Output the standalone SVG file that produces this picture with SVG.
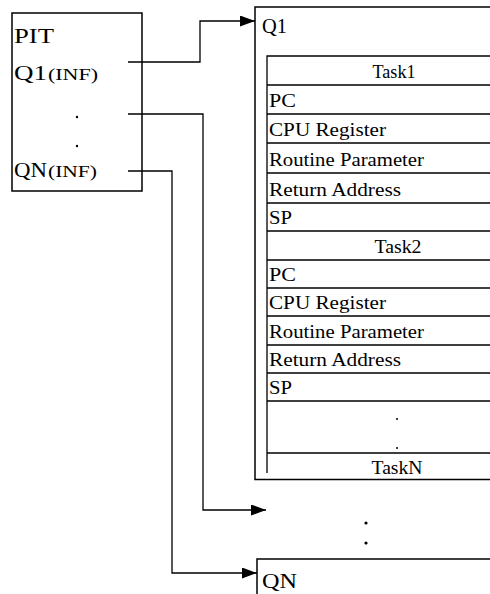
<svg xmlns="http://www.w3.org/2000/svg" width="490" height="594" viewBox="0 0 490 594" font-family="'Liberation Serif', 'DejaVu Serif', 'Times New Roman', serif">
<style>
text, tspan{font-family:"Liberation Serif","DejaVu Serif","Times New Roman",serif;fill:#000}
.row{font-size:18.5px}
.big{font-size:22px}
.sm{font-size:16px}
.ln{fill:none;stroke:#000;stroke-width:1.3}
.box{fill:none;stroke:#000;stroke-width:1.5}
.dot{fill:#000}
</style>
<defs>
<marker id="ah" markerUnits="userSpaceOnUse" markerWidth="16" markerHeight="12" refX="15" refY="5.5" orient="auto">
<path d="M0,0 L15,5.5 L0,11 z" fill="#000"/>
</marker>
</defs>
<g id="pit">
<rect class="box" x="12" y="13" width="130" height="178"/>
<text class="big" x="14" y="43" textLength="40" lengthAdjust="spacingAndGlyphs">PIT</text>
<text x="14" y="80"><tspan class="big" x="14" textLength="33" lengthAdjust="spacingAndGlyphs">Q1</tspan><tspan class="sm" x="48" textLength="50" lengthAdjust="spacingAndGlyphs">(INF)</tspan></text>
<circle class="dot" cx="77" cy="117" r="1.2"/>
<circle class="dot" cx="77" cy="146" r="1.2"/>
<text x="14" y="177"><tspan class="big" x="14" textLength="33" lengthAdjust="spacingAndGlyphs">QN</tspan><tspan class="sm" x="48" textLength="49" lengthAdjust="spacingAndGlyphs">(INF)</tspan></text>
</g>
<g id="q1">
<path class="box" d="M496,7 H255 V479.5 H496"/>
<text class="big" x="262" y="33" textLength="25" lengthAdjust="spacingAndGlyphs">Q1</text>
<g id="q1-table">
<path class="ln" d="M267,473 V56 H496 M267,85 H496 M267,114 H496 M267,143 H496 M267,173 H496 M267,203 H496 M267,231 H496 M267,260 H496 M267,288 H496 M267,316 H496 M267,345 H496 M267,373 H496 M267,401 H496 M267,453 H496"/>
<text class="row" x="394" y="78" text-anchor="middle" textLength="43" lengthAdjust="spacingAndGlyphs">Task1</text>
<text class="row" x="269" y="107" textLength="27" lengthAdjust="spacingAndGlyphs">PC</text>
<text class="row" x="269" y="136" textLength="117" lengthAdjust="spacingAndGlyphs">CPU Register</text>
<text class="row" x="269" y="166" textLength="155" lengthAdjust="spacingAndGlyphs">Routine Parameter</text>
<text class="row" x="269" y="196" textLength="132" lengthAdjust="spacingAndGlyphs">Return Address</text>
<text class="row" x="269" y="224" textLength="23" lengthAdjust="spacingAndGlyphs">SP</text>
<text class="row" x="398" y="253" text-anchor="middle" textLength="47" lengthAdjust="spacingAndGlyphs">Task2</text>
<text class="row" x="269" y="281" textLength="27" lengthAdjust="spacingAndGlyphs">PC</text>
<text class="row" x="269" y="309" textLength="117" lengthAdjust="spacingAndGlyphs">CPU Register</text>
<text class="row" x="269" y="338" textLength="155" lengthAdjust="spacingAndGlyphs">Routine Parameter</text>
<text class="row" x="269" y="366" textLength="132" lengthAdjust="spacingAndGlyphs">Return Address</text>
<text class="row" x="269" y="394" textLength="23" lengthAdjust="spacingAndGlyphs">SP</text>
<circle class="dot" cx="397" cy="419" r="1"/>
<circle class="dot" cx="397" cy="448" r="1"/>
<text class="row" x="397" y="474" text-anchor="middle" textLength="51" lengthAdjust="spacingAndGlyphs">TaskN</text>
</g>
</g>
<g id="middle-dots">
<circle class="dot" cx="366" cy="523" r="1.6"/>
<circle class="dot" cx="366" cy="543" r="1.6"/>
</g>
<g id="qn">
<path class="box" d="M496,559 H257 V596"/>
<text class="big" x="262" y="588" textLength="35" lengthAdjust="spacingAndGlyphs">QN</text>
</g>
<g id="connectors">
<path class="ln" d="M128,62 H200 V21 H255" marker-end="url(#ah)"/>
<path class="ln" d="M128,114 H203 V510 H266" marker-end="url(#ah)"/>
<path class="ln" d="M128,171 H172 V573 H257" marker-end="url(#ah)"/>
</g>
</svg>
